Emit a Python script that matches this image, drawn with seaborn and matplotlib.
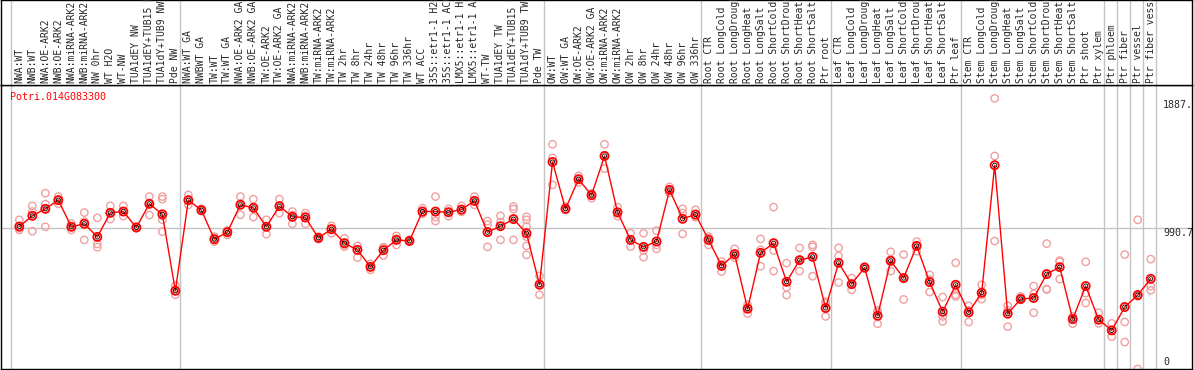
import numpy as np
import pandas as pd
import seaborn as sns
import matplotlib.pyplot as plt

sns.set_style('white')
plt.rcParams['font.family'] = ['DejaVu Sans Mono']

gene = 'Potri.014G083300'

samples = [
    'NWA:WT', 'NWB:WT', 'NWA:OE-ARK2', 'NWB:OE-ARK2', 'NWA:miRNA-ARK2', 'NWB:miRNA-ARK2',
    'NW 0hr', 'WT H2O', 'WT-NW', 'TUA1dEY NW', 'TUA1dEY+TUB15 NW', 'TUA1dY+TUB9 NW', 'Pde NW',
    'NWA:WT GA', 'NWBWT GA', 'TW:WT', 'TW:WT GA', 'NWA:OE-ARK2 GA', 'NWB:OE-ARK2 GA',
    'TW:OE-ARK2', 'TW:OE-ARK2 GA', 'NWA:miRNA-ARK2', 'NWB:miRNA-ARK2', 'TW:miRNA-ARK2',
    'TW:miRNA-ARK2', 'TW 2hr', 'TW 8hr', 'TW 24hr', 'TW 48hr', 'TW 96hr', 'TW 336hr', 'WT ACC',
    '35S::etr1-1 H2O', '35S::etr1-1 ACC', 'LMX5::etr1-1 H2O', 'LMX5::etr1-1 ACC', 'WT-TW',
    'TUA1dEY TW', 'TUA1dEY+TUB15 TW', 'TUA1dY+TUB9 TW', 'Pde TW',
    'OW:WT', 'OW:WT GA', 'OW:OE-ARK2', 'OW:OE-ARK2 GA', 'OW:miRNA-ARK2', 'OW:miRNA-ARK2',
    'OW 2hr', 'OW 8hr', 'OW 24hr', 'OW 48hr', 'OW 96hr', 'OW 336hr',
    'Root CTR', 'Root LongCold', 'Root LongDrought', 'Root LongHeat', 'Root LongSalt',
    'Root ShortCold', 'Root ShortDrought', 'Root ShortHeat', 'Root ShortSalt', 'Ptr root',
    'Leaf CTR', 'Leaf LongCold', 'Leaf LongDrought', 'Leaf LongHeat', 'Leaf LongSalt',
    'Leaf ShortCold', 'Leaf ShortDrought', 'Leaf ShortHeat', 'Leaf ShortSalt', 'Ptr leaf',
    'Stem CTR', 'Stem LongCold', 'Stem LongDrought', 'Stem LongHeat', 'Stem LongSalt',
    'Stem ShortCold', 'Stem ShortDrought', 'Stem ShortHeat', 'Stem ShortSalt', 'Ptr shoot',
    'Ptr xylem', 'Ptr phloem', 'Ptr fiber', 'Ptr vessel', 'Ptr fiber vessel',
]

means = [
    1000, 1075, 1124, 1185, 998, 1019, 927, 1096, 1105, 993, 1159, 1086, 549,
    1185, 1115, 911, 960, 1152, 1131, 998, 1143, 1068, 1063, 920, 981, 883, 836, 717, 834, 906,
    899, 1105, 1105, 1100, 1119, 1180, 960, 1002, 1052, 953, 591,
    1453, 1124, 1332, 1220, 1495, 1100, 906, 857, 895, 1257, 1054, 1084,
    906, 724, 806, 423, 815, 883, 612, 764, 787, 428,
    745, 596, 712, 374, 759, 638, 864, 610, 402, 591,
    397, 535, 1430, 388, 491, 498, 666, 715, 350, 582,
    346, 271, 435, 519, 633,
]

reps = [
    [1047, 988, 976], [1145, 1105, 967], [1234, 1157, 998], [1210, 1185, 1160],
    [1021, 998, 976], [1098, 1035, 906], [1061, 878, 855], [1145, 1096, 1052],
    [1145, 1105, 1073], [998, 995, 988], [1210, 1164, 1080], [1210, 1192, 1075, 1047, 964],
    [586, 549, 521],
    [1222, 1185, 1152], [1124, 1112, 1108], [929, 911, 894], [972, 965, 941],
    [1210, 1164, 1082], [1192, 1136, 1066], [1047, 1000, 946], [1192, 1143, 1094],
    [1105, 1080, 1019], [1094, 1075, 1019], [929, 920, 911], [1005, 985, 953],
    [917, 873, 859], [864, 862, 782], [738, 717, 696], [855, 852, 796], [934, 913, 871],
    [906, 897, 894], [1129, 1096, 1089], [1210, 1066, 1038], [1124, 1103, 1073],
    [1145, 1110, 1103], [1210, 1178, 1152], [1038, 1014, 857], [1075, 1031, 906],
    [1140, 1122, 906], [1068, 1047, 1000, 929, 864, 801], [653, 600, 521],
    [1577, 1481, 1292], [1140, 1117, 1117], [1355, 1332, 1309], [1232, 1229, 1199],
    [1577, 1500, 1406], [1136, 1092, 1073], [953, 906, 859], [953, 832, 785],
    [971, 871, 843], [1278, 1257, 1236], [1124, 1094, 948], [1117, 1070, 1066],
    [929, 918, 871], [754, 734, 684], [843, 796, 780], [451, 430, 389], [913, 836, 721],
    [1136, 832, 687], [743, 573, 519], [850, 764, 687], [871, 857, 651], [472, 463, 369],
    [850, 794, 607], [638, 591, 556], [719, 712, 705], [411, 400, 318], [822, 766, 687],
    [803, 640, 488], [894, 864, 826], [661, 628, 540], [505, 369, 334], [745, 521, 509],
    [444, 411, 330], [591, 521, 491], [1899, 1495, 898], [444, 411, 297], [509, 498, 486],
    [582, 526, 395], [880, 561, 558], [761, 752, 631], [369, 350, 318], [752, 532, 463],
    [395, 346, 320], [320, 271, 227], [803, 330, 189], [1047, 510, 0], [771, 582, 552],
]

group_starts = [0, 13, 41, 53, 63, 73, 84, 85, 86, 87, 88]
right_labels = ['1887.', '990.7', '0']
right_values = [1887, 990.7, 0]

df_mean = pd.DataFrame({'pos': np.arange(len(means)), 'expr': means})
df_rep = pd.DataFrame([(i, v) for i, r in enumerate(reps) for v in r], columns=['pos', 'expr'])

W, H = 1194, 370
fig = plt.figure(figsize=(W / 100, H / 100), dpi=100)
ax = fig.add_axes([1 / W, (H - 369) / H, 1191 / W, 284 / H])
hax = fig.add_axes([1 / W, (H - 85) / H, 1191 / W, 85 / H], sharex=ax)

grey = '#c4c4c4'
for a in (ax, hax):
    for g in group_starts:
        a.axvline(g - 0.62, color=grey, lw=1, zorder=0)
    for s in a.spines.values():
        s.set_color('black')
        s.set_linewidth(1)
    a.set_xticks([])
    a.set_yticks([])

ax.axhline(990.7, color=grey, lw=1, zorder=0)

# replicates
sns.scatterplot(data=df_rep, x='pos', y='expr', ax=ax, s=28, color='#f0a0a0',
                linewidth=1.0, legend=False, zorder=2)
ax.collections[-1].set_facecolor('none')
ax.collections[-1].set_edgecolor('#f0a0a0')

# mean line + markers
sns.lineplot(data=df_mean, x='pos', y='expr', ax=ax, color='red', lw=1, zorder=3)
sns.scatterplot(data=df_mean, x='pos', y='expr', ax=ax, s=34, color='red',
                linewidth=1.3, legend=False, zorder=4)
ax.collections[-1].set_facecolor('none')
ax.collections[-1].set_edgecolor('red')
sns.scatterplot(data=df_mean, x='pos', y='expr', ax=ax, s=9, color='black',
                linewidth=0.6, legend=False, zorder=5)
ax.collections[-1].set_facecolor('none')
ax.collections[-1].set_edgecolor('black')

ax.set_xlim((1 - 19.3) / 13.005, (1192 - 19.3) / 13.005)
ax.set_ylim(0, 1993)
hax.set_ylim(0, 1)
ax.set_xlabel('')
ax.set_ylabel('')

for i, name in enumerate(samples):
    hax.text(i, 0.02, name, rotation=90, ha='center', va='bottom', fontsize=7.0)

for lab, val in zip(right_labels, right_values):
    ax.text(87.95, val + (14 if val == 0 else 0), lab, ha='left',
            va='bottom' if val == 0 else 'top', fontsize=7.2)

ax.text(0.0076, 0.975, gene, transform=ax.transAxes, color='red', fontsize=7.2,
        ha='left', va='top')

fig.savefig('out.png', dpi=100)
